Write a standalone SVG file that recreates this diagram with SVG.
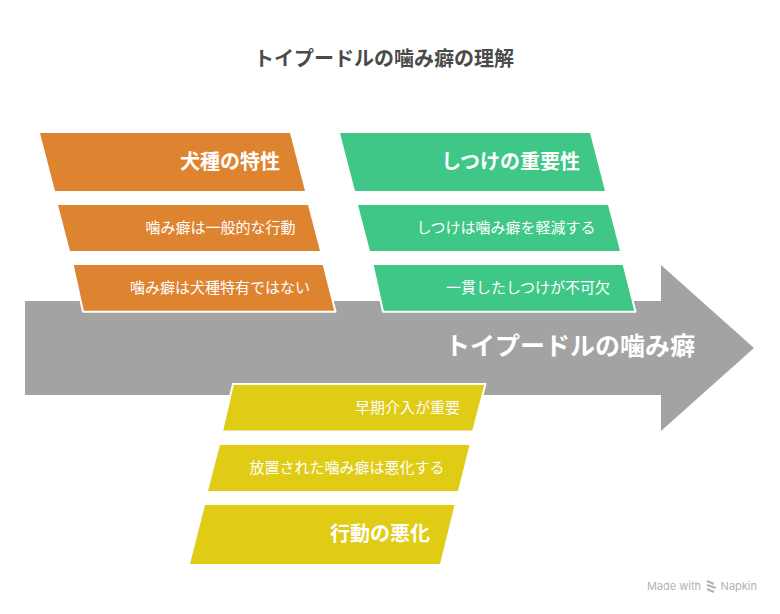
<svg xmlns="http://www.w3.org/2000/svg" width="780" height="614" viewBox="0 0 780 614">
<style>
text{font-family:"Noto Sans CJK JP","Noto Sans",sans-serif;fill:#fff;text-anchor:end}
.h{font-size:20px;font-weight:700}
.s{font-size:15px;font-weight:400}
.o{fill:#de8431}.g{fill:#3ec787}.y{fill:#e0cb15}
.w{stroke:#fff;stroke-width:2;stroke-linejoin:round}
</style>
<rect width="780" height="614" fill="#fff"/>
<text id="title" x="514" y="66" style="font-size:20px;font-weight:700;fill:#4a4a4a">トイプードルの噛み癖の理解</text>
<g id="spine">
<path d="M25 301H661V265L754 348L661 431V395H25Z" fill="#a3a3a3"/>
<text x="695" y="355" style="font-size:25px;font-weight:700">トイプードルの噛み癖</text>
</g>
<g id="connectors"/>
<g id="orange-head"><path class="o" d="M40 133H290L305 191H55Z"/><text class="h" x="280" y="169">犬種の特性</text></g>
<g id="orange-1"><path class="o" d="M58 205H308L320 251H70Z"/><text class="s" x="295.500" y="233">噛み癖は一般的な行動</text></g>
<g id="orange-2"><path class="o w" d="M72.500 264H323.500L335.500 311.700H83Z"/><text class="s" x="310" y="293">噛み癖は犬種特有ではない</text></g>
<g id="green-head"><path class="g" d="M340 133H590L605 191H355Z"/><text class="h" x="580" y="169">しつけの重要性</text></g>
<g id="green-1"><path class="g" d="M358 205H608L620 251H370Z"/><text class="s" x="595.500" y="233">しつけは噛み癖を軽減する</text></g>
<g id="green-2"><path class="g w" d="M372.500 264H623.500L635.500 311.700H383Z"/><text class="s" x="610" y="293">一貫したしつけが不可欠</text></g>
<g id="yellow-1"><path class="y w" d="M233 384H485.500L473 431.500H222Z"/><text class="s" x="460" y="413">早期介入が重要</text></g>
<g id="yellow-2"><path class="y" d="M220 445H469.500L458 491H208Z"/><text class="s" x="444.500" y="473">放置された噛み癖は悪化する</text></g>
<g id="yellow-head"><path class="y" d="M205 505H454.500L440 564H190Z"/><text class="h" x="430" y="541">行動の悪化</text></g>
<g id="watermark">
<text x="701" y="590" style="font-family:'Inter','Noto Sans',sans-serif;font-size:11px;fill:#b3b3b3">Made with</text>
<path d="M707 581L714 584M707 585L716 588M707 589L714 592" fill="none" stroke="#b3b3b3" stroke-width="2"/>
<text x="757" y="590" style="font-family:'Inter','Noto Sans',sans-serif;font-size:11px;fill:#b3b3b3">Napkin</text>
</g>
</svg>
